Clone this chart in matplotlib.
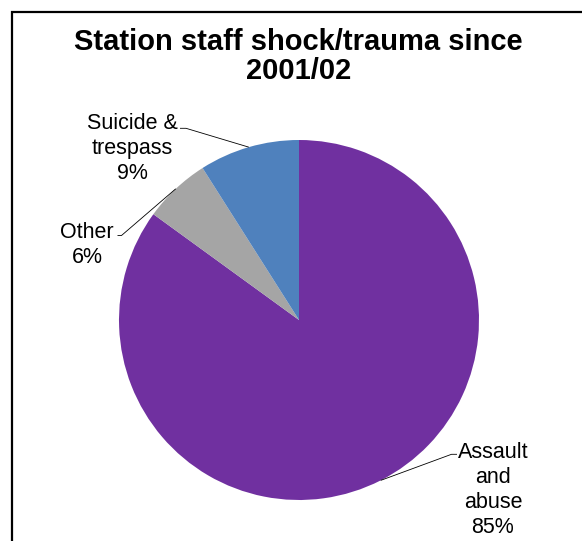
import numpy as np
import matplotlib
matplotlib.use("Agg")
import matplotlib.pyplot as plt
from matplotlib.lines import Line2D

# Chart data
categories = ["Assault\nand\nabuse", "Other", "Suicide &\ntrespass"]
shares = [85, 6, 9]
colors = ["#7030A0", "#A5A5A5", "#4F81BD"]
title = "Station staff shock/trauma since\n2001/02"

W, H = 582, 541
fig = plt.figure(figsize=(W / 100, H / 100), dpi=100)
fig.patch.set_facecolor("white")

# Outer chart frame (left and top edges visible)
fig.add_artist(Line2D([12 / W, 12 / W, 1.0], [0.0, 1 - 12 / H, 1 - 12 / H],
                      transform=fig.transFigure, color="black", lw=1.6,
                      solid_capstyle="butt", solid_joinstyle="miter"))

# Pie axes: centre (299, 320) px, radius 180 px
cx, cy, r = 299, 320, 180
ax = fig.add_axes([(cx - r) / W, (H - cy - r) / H, 2 * r / W, 2 * r / H])

wedges, _ = ax.pie(shares, colors=colors, startangle=90, counterclock=False,
                   radius=1, wedgeprops=dict(linewidth=0))
ax.set_xlim(-1, 1)
ax.set_ylim(-1, 1)
ax.set_aspect("equal")
ax.axis("off")


def px(x, y):
    """Pixel position -> pie data coordinates."""
    return (x - cx) / r, (cy - y) / r


label_font = dict(family="Liberation Sans", fontsize=15.5, color="black",
                  linespacing=1.27)

# label anchor (centre x, top y) and leader line start points, in pixels
label_pos = [(493, 441.5), (87, 221.5), (132.5, 112.7)]
leader_pts = [[(457, 454.3), (451.5, 454.3)],
              [(117.5, 235.5), (121.5, 235.5)],
              [(180, 128.3), (186, 128.3)]]

for w, lab, val, (lx, ly), pts in zip(wedges, categories, shares, label_pos, leader_pts):
    tx, ty = px(lx, ly)
    ax.text(tx, ty, f"{lab}\n{val}%", ha="center", va="top", **label_font)
    mid = np.deg2rad((w.theta1 + w.theta2) / 2)
    xs = [px(*p)[0] for p in pts] + [np.cos(mid)]
    ys = [px(*p)[1] for p in pts] + [np.sin(mid)]
    ax.plot(xs, ys, color="black", lw=0.6, solid_capstyle="butt", clip_on=False)

fig.text(298.5 / W, 1 - 27.5 / H, title, ha="center", va="top",
         family="Liberation Sans", fontweight="bold", fontsize=21,
         linespacing=1.05)

fig.savefig("out.png", dpi=100)
